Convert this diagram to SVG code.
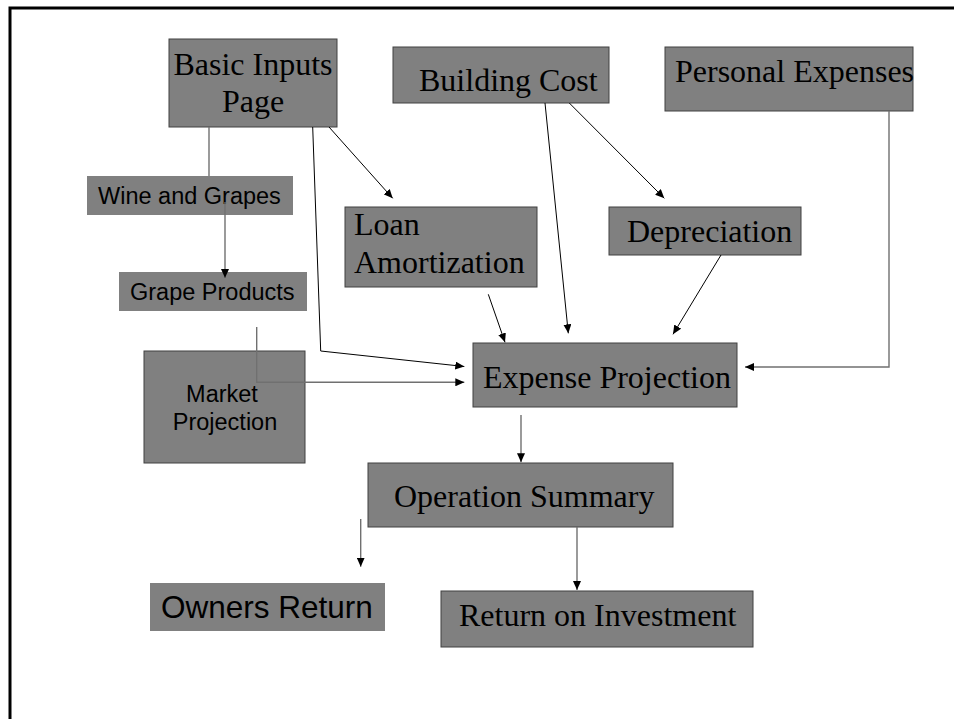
<svg xmlns="http://www.w3.org/2000/svg" width="954" height="719" viewBox="0 0 954 719">
<style>
.box{fill:#808080;stroke:#404040;stroke-width:1}
.nb{fill:#808080;stroke:none}
.tr{font-family:"Liberation Serif","Times New Roman",serif;font-size:32px;fill:#000}
.ar{font-family:"Liberation Sans",Arial,sans-serif;fill:#000}
.k{fill:none;stroke:#000;stroke-width:1}
.g{fill:none;stroke:#707070;stroke-width:1.4}
</style>
<defs>
<marker id="ah" markerUnits="userSpaceOnUse" markerWidth="10" markerHeight="8" refX="9" refY="4" orient="auto">
<path d="M0,0 L9,4 L0,8 Z" fill="#000"/>
</marker>
</defs>
<rect x="0" y="0" width="954" height="719" fill="#fff"/>
<path d="M10,725 L10,8 L960,8" fill="none" stroke="#000" stroke-width="3"/>

<g id="basic-inputs">
<rect class="box" x="169" y="39" width="168" height="88"/>
<text class="tr" x="253" y="75" text-anchor="middle">Basic Inputs</text>
<text class="tr" x="253" y="112" text-anchor="middle">Page</text>
</g>
<g id="building-cost">
<rect class="box" x="393" y="47" width="216" height="56"/>
<text class="tr" x="419" y="91">Building Cost</text>
</g>
<g id="personal-expenses">
<rect class="box" x="665" y="47" width="248" height="64"/>
<text class="tr" x="675" y="82">Personal Expenses</text>
</g>
<g id="wine-grapes">
<rect class="nb" x="87" y="176" width="206" height="39"/>
<text class="ar" x="98" y="204" font-size="23.5">Wine and Grapes</text>
</g>
<g id="grape-products">
<rect class="nb" x="119" y="272" width="188" height="39"/>
<text class="ar" x="130" y="300" font-size="23.5">Grape Products</text>
</g>
<g id="loan-amortization">
<rect class="box" x="345" y="207" width="192" height="80"/>
<text class="tr" x="354" y="235">Loan</text>
<text class="tr" x="354" y="273">Amortization</text>
</g>
<g id="depreciation">
<rect class="box" x="609" y="207" width="192" height="48"/>
<text class="tr" x="627" y="242">Depreciation</text>
</g>
<g id="market-projection">
<rect class="box" x="144" y="351" width="161" height="112"/>
<text class="ar" x="222" y="402" font-size="23.5" text-anchor="middle">Market</text>
<text class="ar" x="225" y="430" font-size="23.5" text-anchor="middle">Projection</text>
</g>
<g id="expense-projection">
<rect class="box" x="473" y="343" width="264" height="64"/>
<text class="tr" x="483" y="388">Expense Projection</text>
</g>
<g id="operation-summary">
<rect class="box" x="368" y="463" width="305" height="64"/>
<text class="tr" x="394" y="507">Operation Summary</text>
</g>
<g id="owners-return">
<rect class="nb" x="150" y="583" width="235" height="48"/>
<text class="ar" x="161" y="618" font-size="31.5">Owners Return</text>
</g>
<g id="return-investment">
<rect class="box" x="441" y="591" width="312" height="56"/>
<text class="tr" x="459" y="626">Return on Investment</text>
</g>

<g id="connectors">
<path class="g" d="M209,127 L209,176"/>
<path class="g" d="M225,202 L225,278" marker-end="url(#ah)"/>
<path class="k" d="M329,127 L392.7,198.3" marker-end="url(#ah)"/>
<path class="k" d="M312.7,127 L320.7,351 L464.3,366.5" marker-end="url(#ah)"/>
<path class="g" d="M256.7,327 L256.7,382.3 L464.3,382.3" marker-end="url(#ah)"/>
<path class="k" d="M569.3,103 L664.3,198.3" marker-end="url(#ah)"/>
<path class="k" d="M545,103 L568.3,333.3" marker-end="url(#ah)"/>
<path class="k" d="M488.3,294.3 L505,342.3" marker-end="url(#ah)"/>
<path class="k" d="M721,255 L673,334.3" marker-end="url(#ah)"/>
<path class="g" d="M889,111 L889,367 L745,367" marker-end="url(#ah)"/>
<path class="g" d="M521,415 L521,462.3" marker-end="url(#ah)"/>
<path class="g" d="M577,527 L577,590" marker-end="url(#ah)"/>
<path class="g" d="M360.7,519 L360.7,566.7" marker-end="url(#ah)"/>
</g>
</svg>
